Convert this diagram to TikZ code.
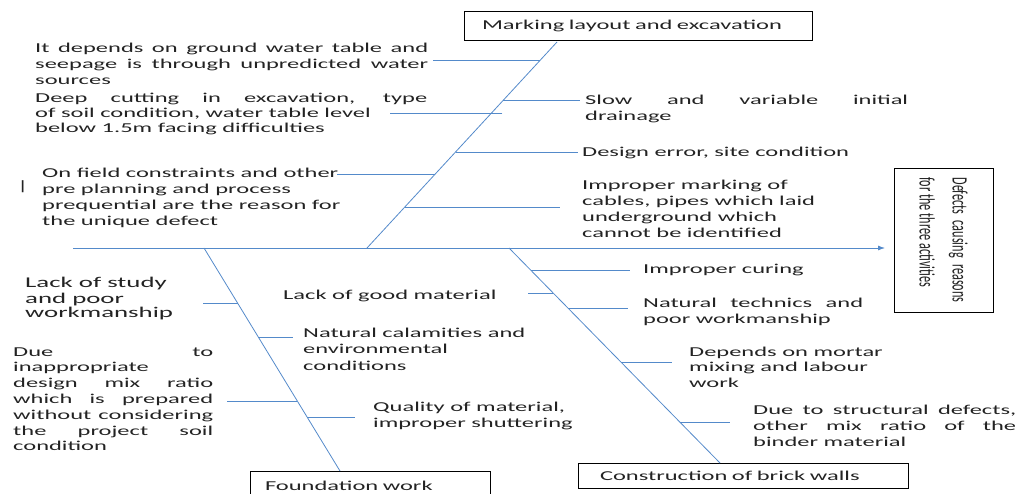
\documentclass[tikz,border=0pt]{standalone}
\usepackage{fontspec}
\setmainfont{Carlito}[FakeStretch=1.8]
\newfontfamily\narrowfont{Carlito}
\usetikzlibrary{arrows.meta}
\definecolor{fishblue}{RGB}{84,138,202}
\definecolor{inkgray}{RGB}{35,35,35}
\newcommand{\spreadline}[2]{\makebox[#1][s]{#2}}

\begin{document}
\begin{tikzpicture}[x=1pt, y=-1pt,
    bone/.style={draw=fishblue, line width=0.8pt},
    cause/.style={anchor=north west, inner sep=0pt, align=left, text=inkgray,
        font=\fontsize{13.6}{16.2}\selectfont},
    label box/.style={draw=black, line width=0.9pt, inner ysep=0pt, align=left,
        text=inkgray, font=\fontsize{13.6}{16.2}\selectfont}]
\useasboundingbox (0,0) rectangle (1026,494);

% heads of the fish
\node[label box, text width=312pt, inner xsep=18pt, minimum height=29pt] (mk) at (638,25.5) {Marking layout and excavation};
\node[label box, text width=210pt, inner xsep=15pt, minimum height=30pt] (fw) at (370,486) {Foundation work};
\node[label box, text width=286pt, inner xsep=22pt, minimum height=25pt] (cb) at (743,475.5) {Construction of brick walls};
\node[label box, rotate=-90, minimum width=144pt, minimum height=99pt, inner xsep=0pt] (df) at (943.5,240)
    {\scalebox{1}[1.8]{\parbox{125pt}{\narrowfont\fontsize{12.2}{18.3}\selectfont
     \spreadline{125pt}{Defects causing reasons}\\for the three activities}}};

% spine
\coordinate (spineL) at (73,248);
\coordinate (spineR) at (885,248);
\draw[bone, -{Latex[length=7pt,width=5pt]}] (spineL) -- (spineR);

% bones
\coordinate (mkTail) at (367,248);
\coordinate (mkHead) at (557,42);
\draw[bone] (mkTail) -- (mkHead)
    coordinate[pos=0.199] (mk1) coordinate[pos=0.359] (mk2) coordinate[pos=0.466] (mk3)
    coordinate[pos=0.655] (mk4) coordinate[pos=0.718] (mk5) coordinate[pos=0.913] (mk6);
\coordinate (fwTail) at (204,248);
\coordinate (fwHead) at (340,471);
\draw[bone] (fwTail) -- (fwHead)
    coordinate[pos=0.247] (fw1) coordinate[pos=0.399] (fw2)
    coordinate[pos=0.686] (fw3) coordinate[pos=0.758] (fw4);
\coordinate (cbTail) at (509,248);
\coordinate (cbHead) at (720,463);
\draw[bone] (cbTail) -- (cbHead)
    coordinate[pos=0.102] (cb1) coordinate[pos=0.209] (cb2) coordinate[pos=0.279] (cb3)
    coordinate[pos=0.530] (cb4) coordinate[pos=0.809] (cb5);

% ribs
\coordinate (mk1e) at (560,207);
\coordinate (mk2e) at (337,174);
\coordinate (mk3e) at (578,152);
\coordinate (mk4e) at (390,113);
\coordinate (mk5e) at (580,100);
\coordinate (mk6e) at (433,60);
\draw[bone] (mk1) -- (mk1 -| mk1e);
\draw[bone] (mk2) -- (mk2 -| mk2e);
\draw[bone] (mk3) -- (mk3 -| mk3e);
\draw[bone] ([xshift=11pt]mk4) -- (mk4 -| mk4e);
\draw[bone] (mk5) -- (mk5 -| mk5e);
\draw[bone] (mk6) -- (mk6 -| mk6e);
\coordinate (fw1e) at (203,303);
\coordinate (fw2e) at (293,337);
\coordinate (fw3e) at (227,401);
\coordinate (fw4e) at (355,417);
\draw[bone] (fw1) -- (fw1 -| fw1e);
\draw[bone] (fw2) -- (fw2 -| fw2e);
\draw[bone] (fw3) -- (fw3 -| fw3e);
\draw[bone] (fw4) -- (fw4 -| fw4e);
\coordinate (cb1e) at (630,270);
\coordinate (cb2e) at (528,293);
\coordinate (cb3e) at (628,308);
\coordinate (cb4e) at (672,362);
\coordinate (cb5e) at (730,422);
\draw[bone] (cb1) -- (cb1 -| cb1e);
\draw[bone] (cb2) -- (cb2 -| cb2e);
\draw[bone] (cb3) -- (cb3 -| cb3e);
\draw[bone] (cb4) -- (cb4 -| cb4e);
\draw[bone] (cb5) -- (cb5 -| cb5e);

% causes
\node[cause] (waterTable) at (35,40.7) {\strut\spreadline{393pt}{It depends on ground water table and}\\\spreadline{393pt}{seepage is through unpredicted water}\\sources};
\node[cause, font=\fontsize{13.6}{15.2}\selectfont] (deepCut) at (35,91.4) {\strut\spreadline{392pt}{Deep cutting in excavation, type}\\of soil condition, water table level\\below 1.5m facing difficulties};
\node[cause] (fieldCons) at (42,165.7) {\strut On field constraints and other\\pre planning and process\\prequential are the reason for\\the unique defect};
\node[cause] (bar) at (17,178.7) {\strut|};
\node[cause, font=\fontsize{13.6}{16.8}\selectfont] (slowDrain) at (585,92.2) {\strut\spreadline{323pt}{Slow and variable initial}\\drainage};
\node[cause] (designErr) at (582,144.7) {\strut Design error, site condition};
\node[cause, font=\fontsize{13.6}{16}\selectfont] (markCables) at (582,177.8) {\strut Improper marking of\\cables, pipes which laid\\underground which\\cannot be identified};
\node[cause, font=\fontsize{14.9}{14}\selectfont] (lackStudy) at (25,277.2) {\strut Lack of study\\and poor\\workmanship};
\node[cause, font=\fontsize{13.6}{15.8}\selectfont] (mixRatio) at (13,344.9) {\strut\spreadline{200pt}{Due to}\\inappropriate\\\spreadline{200pt}{design mix ratio}\\\spreadline{200pt}{which is prepared}\\\spreadline{200pt}{without considering}\\\spreadline{200pt}{the project soil}\\condition};
\node[cause] (goodMat) at (283,287.7) {\strut Lack of good material};
\node[cause, font=\fontsize{13.6}{16.5}\selectfont] (calamity) at (303,325.5) {\strut Natural calamities and\\environmental\\conditions};
\node[cause] (shutter) at (373,399.7) {\strut Quality of material,\\improper shuttering};
\node[cause] (curing) at (643,261.7) {\strut Improper curing};
\node[cause] (technics) at (643,295.7) {\strut\spreadline{220pt}{Natural technics and}\\poor workmanship};
\node[cause, font=\fontsize{13.6}{15.5}\selectfont] (mortar) at (689,345.2) {\strut Depends on mortar\\mixing and labour\\work};
\node[cause] (structural) at (753,402.7) {\strut\spreadline{263pt}{Due to structural defects,}\\\spreadline{263pt}{other mix ratio of the}\\binder material};
\end{tikzpicture}
\end{document}
